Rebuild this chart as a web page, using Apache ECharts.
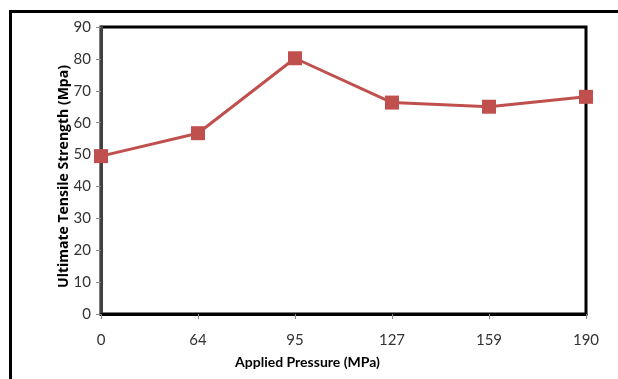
<!DOCTYPE html>
<html><head><meta charset="utf-8">
<script src="https://cdn.jsdelivr.net/npm/echarts@6/dist/echarts.min.js"></script>
<style>html,body{margin:0;padding:0;background:#fff}#c{width:618px;height:379px}</style>
</head><body><div id="c"></div>
<script>
const categories = ['0', '64', '95', '127', '159', '190'];
const strength = [49.5, 56.7, 80.2, 66.3, 65.0, 68.1];
const yTicks = [0, 10, 20, 30, 40, 50, 60, 70, 80, 90];

const chart = echarts.init(document.getElementById('c'), null, {renderer: 'canvas'});
const font = 'Lato, sans-serif';
chart.setOption({
  animation: false,
  backgroundColor: '#fff',
  graphic: [{
    type: 'rect', left: 8, top: 9, z: 100,
    shape: {width: 630, height: 400},
    style: {fill: 'none', stroke: '#000', lineWidth: 3}
  }],
  grid: {left: 101, top: 27, right: 32, bottom: 65, show: true, borderColor: '#000', borderWidth: 3, backgroundColor: '#fff'},
  xAxis: {
    type: 'category', data: categories, boundaryGap: false,
    axisLine: {show: true, lineStyle: {color: '#000', width: 3}},
    axisTick: {show: true, length: 5, alignWithLabel: true, lineStyle: {color: '#888'}},
    axisLabel: {color: '#333', fontSize: 15, fontFamily: font, margin: 19},
    name: 'Applied Pressure (MPa)', nameLocation: 'middle', nameGap: 41, nameMoveOverlap: false,
    nameTextStyle: {color: '#000', fontSize: 14, fontWeight: 'bold', fontFamily: font, padding: [0, 72, 0, 0]}
  },
  yAxis: {
    type: 'value', min: yTicks[0], max: yTicks[yTicks.length - 1], interval: 10,
    axisLine: {show: true, lineStyle: {color: '#404040', width: 3}},
    axisTick: {show: true, length: 5, lineStyle: {color: '#888'}},
    splitLine: {show: false},
    axisLabel: {color: '#333', fontSize: 15, fontFamily: font, margin: 10},
    name: 'Ultimate Tensile Strength (Mpa)', nameLocation: 'middle', nameGap: 30, nameMoveOverlap: false,
    nameTextStyle: {color: '#000', fontSize: 14, fontWeight: 'bold', fontFamily: '"Open Sans", sans-serif', padding: [0, 12, 0, 0]}
  },
  series: [{
    type: 'line', data: strength,
    symbol: 'rect', symbolSize: 14,
    lineStyle: {color: '#C0504D', width: 3},
    itemStyle: {color: '#C0504D'},
    clip: false
  }]
});
</script></body></html>
